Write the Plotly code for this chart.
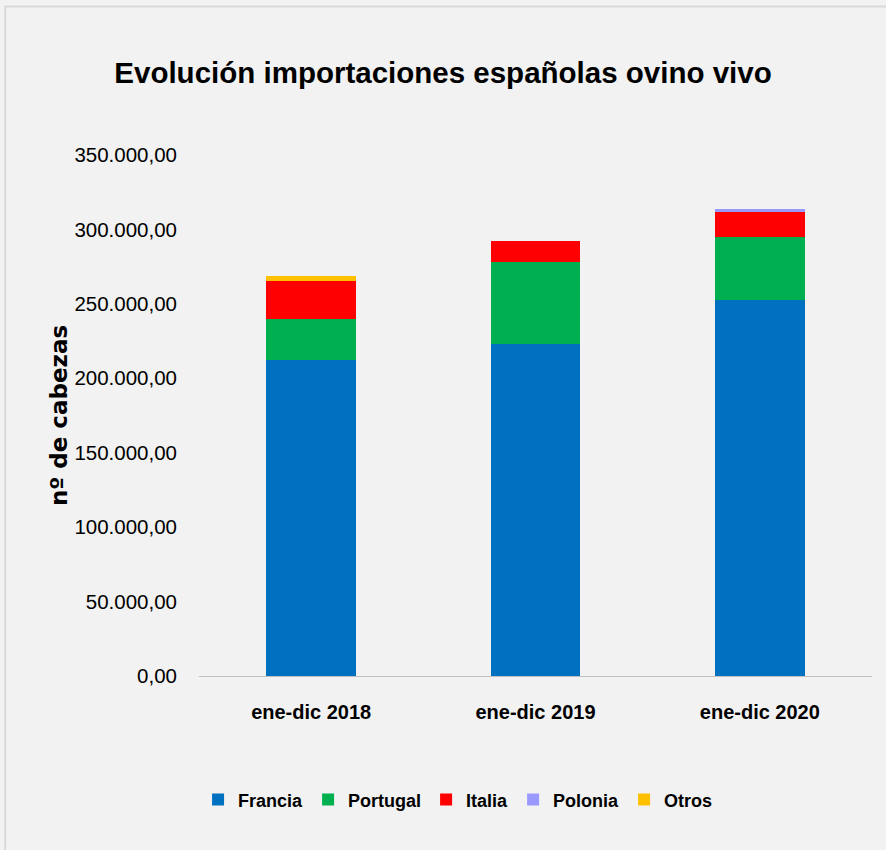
import plotly.graph_objects as go

# Imports of live sheep into Spain, head count per year (Jan-Dec)
periodos = ["ene-dic 2018", "ene-dic 2019", "ene-dic 2020"]
francia = [212000, 223000, 252700]
portugal = [28000, 55300, 42500]
italia = [25400, 13900, 16400]
polonia = [0, 0, 1800]
otros = [3400, 0, 0]

series = [
    ("Francia", francia, "#0070C0"),
    ("Portugal", portugal, "#00B050"),
    ("Italia", italia, "#FF0000"),
    ("Polonia", polonia, "#9999FF"),
    ("Otros", otros, "#FFC000"),
]

tick_vals = [0, 50000, 100000, 150000, 200000, 250000, 300000, 350000]
tick_text = ["0,00", "50.000,00", "100.000,00", "150.000,00", "200.000,00",
             "250.000,00", "300.000,00", "350.000,00"]

sans = "Liberation Sans, Arial, sans-serif"

fig = go.Figure()
for name, vals, color in series:
    fig.add_trace(go.Bar(
        name="<b>%s</b>" % name, x=periodos, y=vals,
        marker=dict(color=color, line=dict(width=0)),
    ))

fig.update_layout(
    barmode="stack",
    bargap=0.6,
    width=886, height=850,
    paper_bgcolor="#F2F2F2",
    plot_bgcolor="#F2F2F2",
    margin=dict(l=199, r=14, t=155, b=174),
    title=dict(
        text="<b>Evolución importaciones españolas ovino vivo</b>",
        x=0.5, xref="container", xanchor="center",
        y=0.915, yanchor="middle",
        font=dict(family=sans, size=29.5, color="#000000"),
    ),
    font=dict(family=sans, color="#000000"),
    showlegend=True,
    legend=dict(
        orientation="h", x=0.517, xanchor="center", xref="container",
        y=0.059, yanchor="middle", yref="container",
        font=dict(family=sans, size=18, color="#000000"),
        itemwidth=30, traceorder="normal",
    ),
    xaxis=dict(
        showline=True, linecolor="#BFBFBF", linewidth=1,
        ticks="", tickfont=dict(family=sans, size=20, color="#000000"),
        ticklabelstandoff=18,
        tickvals=periodos,
        ticktext=["<b>%s</b>" % p for p in periodos],
    ),
    yaxis=dict(
        range=[0, 350000], showgrid=False, zeroline=False, showline=False,
        tickvals=tick_vals, ticktext=tick_text,
        tickfont=dict(family=sans, size=20.5, color="#000000"),
        ticklabelstandoff=21,
        title=dict(text="<b>nº de cabezas</b>",
                   font=dict(family="DejaVu Sans, Verdana, sans-serif", size=23),
                   standoff=0),
    ),
)

# light frame around the chart area
fig.add_shape(type="rect", xref="paper", yref="paper",
              x0=-0.288, x1=1.03, y0=-0.36, y1=1.285,
              line=dict(color="#D9D9D9", width=2), fillcolor="rgba(0,0,0,0)",
              layer="below")

fig.write_html("out.html")
